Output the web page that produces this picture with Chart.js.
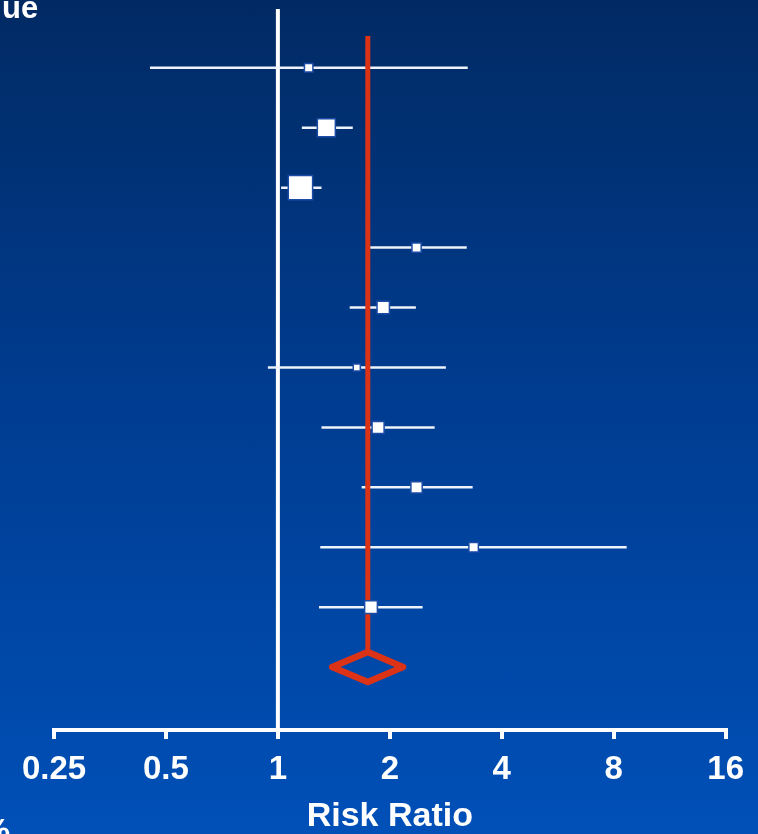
<!DOCTYPE html>
<html>
<head>
<meta charset="utf-8">
<script src="https://cdn.jsdelivr.net/npm/chart.js@4.4.1/dist/chart.umd.min.js"></script>
<style>
  html, body { margin: 0; padding: 0; }
  body {
    width: 758px; height: 834px; overflow: hidden;
    background: linear-gradient(to bottom, #012a63 0%, #003b8e 45%, #0050b8 100%);
  }
  #wrap { position: relative; width: 758px; height: 834px; }
</style>
</head>
<body>
<div id="wrap"><canvas id="myChart" width="758" height="834"></canvas></div>
<script>
// studies, top to bottom (risk ratio with 95% CI, weight in %)
var estimates = [1.21, 1.35, 1.15, 2.36, 1.92, 1.63, 1.86, 2.36, 3.36, 1.78];
var lowerCI   = [0.453, 1.16, 1.02, 1.77, 1.56, 0.94, 1.31, 1.68, 1.30, 1.29];
var upperCI   = [3.24, 1.59, 1.31, 3.22, 2.35, 2.83, 2.64, 3.34, 8.67, 2.45];
var weights   = [4.0, 18.0, 32.9, 4.7, 8.5, 2.8, 8.0, 7.1, 5.0, 9.0];

// pooled estimate (diamond)
var pooled = 1.745;
var pooledLower = 1.40;
var pooledUpper = 2.17;

var xTicks = [0.25, 0.5, 1, 2, 4, 8, 16];
var xTitle = 'Risk Ratio';

var rows = estimates.length;
var white = '#ffffff';
var red = '#dc3316';
// row axis: one unit per study row, 0 = top row
var yMin = -0.82, yMax = 11.05, yLineTop = -0.98;

var ctx = document.getElementById('myChart').getContext('2d');

// whiskers, one dataset per study
var whiskerSets = estimates.map(function(e, i) {
  return {
    data: [{ x: lowerCI[i], y: i }, { x: upperCI[i], y: i }],
    showLine: true,
    borderColor: '#eef2fa',
    borderWidth: 2.5,
    pointRadius: 0,
    order: 3
  };
});

var boxData = estimates.map(function(e, i) { return { x: e, y: i }; });
var boxRadius = weights.map(function(w) { return 3.0 * Math.sqrt(w); });

// text not handled by the scales (cut at the edges of the slide)
var slideText = {
  id: 'slideText',
  afterDraw: function(chart) {
    var c = chart.ctx;
    c.save();
    c.fillStyle = white;
    c.font = 'bold 31px "Liberation Sans", Arial, sans-serif';
    c.textAlign = 'left';
    c.textBaseline = 'alphabetic';
    c.fillText('ue', 2, 18);
    c.font = 'bold 33px "Liberation Sans", Arial, sans-serif';
    c.textAlign = 'right';
    c.fillText('%', 10, 842);
    c.restore();
  }
};

var myChart = new Chart(ctx, {
  type: 'scatter',
  data: {
    datasets: [
      {
        label: 'studies',
        data: boxData,
        pointStyle: 'rect',
        pointRadius: boxRadius,
        pointHoverRadius: boxRadius,
        backgroundColor: white,
        borderColor: '#1c4ba6',
        borderWidth: 1.5,
        order: 0
      },
      {
        label: 'pooled line',
        data: [{ x: pooled, y: -0.53 }, { x: pooled, y: rows - 0.25 }],
        showLine: true,
        borderColor: red,
        borderWidth: 5,
        pointRadius: 0,
        order: 1
      },
      {
        label: 'pooled',
        data: [
          { x: pooledLower, y: rows },
          { x: pooled, y: rows - 0.25 },
          { x: pooledUpper, y: rows },
          { x: pooled, y: rows + 0.25 },
          { x: pooledLower, y: rows }
        ],
        showLine: true,
        borderColor: red,
        borderWidth: 6.5,
        borderJoinStyle: 'round',
        borderCapStyle: 'round',
        pointRadius: 0,
        order: 1
      },
      {
        label: 'no effect',
        data: [{ x: 1, y: yLineTop }, { x: 1, y: yMax }],
        showLine: true,
        clip: false,
        borderColor: white,
        borderWidth: 4,
        pointRadius: 0,
        order: 4
      }
    ].concat(whiskerSets)
  },
  options: {
    responsive: false,
    animation: false,
    events: [],
    layout: { padding: { left: 54, right: 32, top: 7, bottom: 0 } },
    plugins: {
      legend: { display: false },
      tooltip: { enabled: false }
    },
    scales: {
      x: {
        type: 'logarithmic',
        min: 0.25,
        max: 16,
        afterBuildTicks: function(scale) {
          scale.ticks = xTicks.map(function(v) { return { value: v }; });
        },
        border: { display: true, color: white, width: 4 },
        grid: {
          drawOnChartArea: false,
          drawTicks: true,
          tickLength: 9,
          color: white,
          lineWidth: 4
        },
        ticks: {
          color: white,
          padding: 14,
          maxRotation: 0,
          autoSkip: false,
          font: { family: '"Liberation Sans", Arial, sans-serif', size: 33, weight: 'bold', lineHeight: 1 },
          callback: function(v) { return String(v); }
        },
        title: {
          display: true,
          text: xTitle,
          color: white,
          padding: { top: 0, bottom: 0 },
          font: { family: '"Liberation Sans", Arial, sans-serif', size: 34, weight: 'bold', lineHeight: 1 }
        }
      },
      y: {
        type: 'linear',
        display: false,
        reverse: true,
        bounds: 'data',
        min: yMin,
        max: yMax,
        ticks: { display: false },
        afterBuildTicks: function(scale) {
          scale.min = yMin;
          scale.max = yMax;
        }
      }
    }
  },
  plugins: [slideText]
});
</script>
</body>
</html>
